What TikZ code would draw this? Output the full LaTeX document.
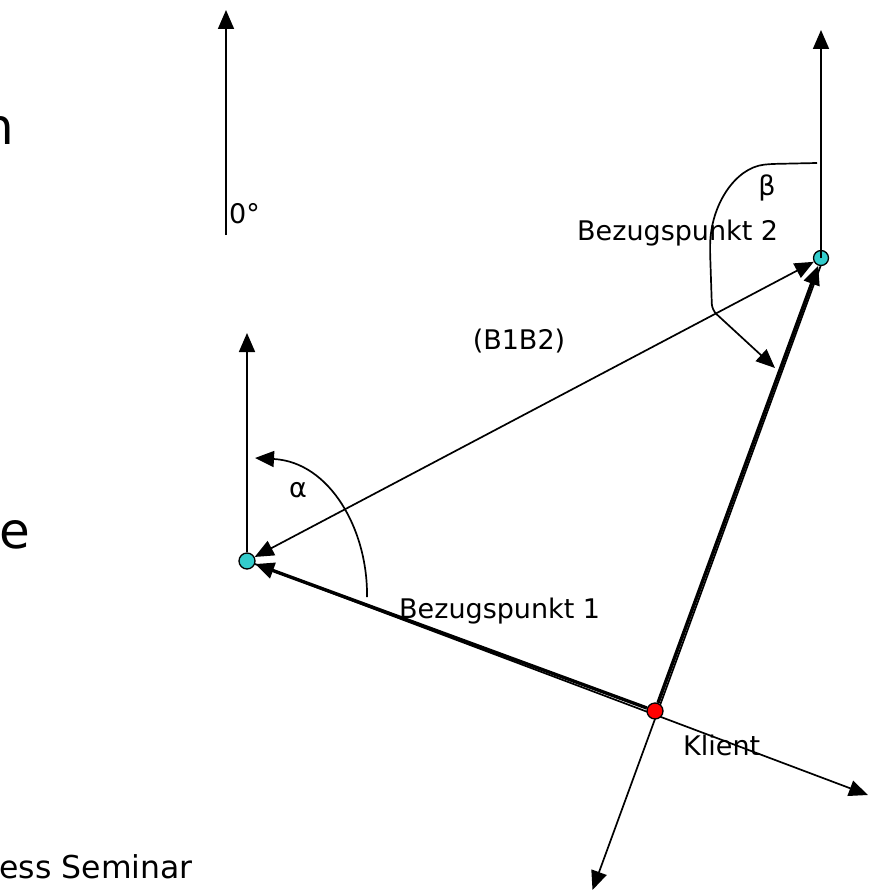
\documentclass[tikz,border=0pt]{standalone}
\usepackage{fontspec}
\setmainfont{DejaVu Sans}
\usetikzlibrary{arrows.meta}
\definecolor{bcyan}{HTML}{33CCCC}
\definecolor{kred}{HTML}{FF0000}
\begin{document}
\begin{tikzpicture}[x=1pt,y=-1pt,
  thinln/.style={line width=1.7pt},
  thickln/.style={line width=3.4pt},
  tip/.style={-{Triangle[length=19pt,width=16pt]}},
  lbl/.style={font=\fontsize{27}{32}\selectfont, inner sep=0pt},
  big/.style={font=\fontsize{50}{60}\selectfont, inner sep=0pt},
  pt/.style={circle, draw=black, line width=1.3pt, minimum size=16pt, inner sep=0pt}]
\useasboundingbox (0,0) rectangle (872,896);
% fragments of slide text
\node[big, anchor=base east] (tn) at (14,145) {n};
\node[big, anchor=base west] (te) at (-1,548) {e};
\node[font=\fontsize{31.5}{38}\selectfont, inner sep=0pt, anchor=base east] (ts) at (193,878) {ess Seminar};
% points
\coordinate (B1c) at (247,561);
\coordinate (B2c) at (821,258);
\coordinate (Kc) at (655,711);
% reference north arrow
\coordinate (n0a) at (226,235);
\coordinate (n0b) at (226,10);
\draw[thinln,tip] (n0a) -- (n0b);
\node[lbl, anchor=base west] (deg) at (229,223) {0°};
% extension lines
\coordinate (e1) at (868,795);
\coordinate (e2) at (590,890);
\coordinate (u1) at (247,333);
\coordinate (u2) at (821,30);
\draw[thinln,tip] (B1c) -- (e1);
\draw[thinln,tip] ([xshift=2.5pt]B2c) -- ([xshift=2.5pt]e2);
% nodes
\node[pt, fill=bcyan] (B1) at (B1c) {};
\node[pt, fill=bcyan, minimum size=15pt] (B2) at (B2c) {};
\node[pt, fill=kred] (K) at (Kc) {};
% vertical arrows
\draw[thinln,tip] (B1.north) -- (u1);
\draw[thinln,tip] (B2.center) -- (u2);
% triangle
\draw[thinln,{Triangle[length=19pt,width=16pt]}-{Triangle[length=19pt,width=16pt]}] (B2) -- (B1);
\draw[thickln,tip] (K) -- (B1);
\draw[thickln,tip] (K) -- (B2);
% angle alpha
\coordinate (a0) at (367,597);
\coordinate (a1) at (255,458);
\draw[thinln,tip] (a0) .. controls (368,530) and (330,462) .. (a1);
\node[lbl] (al) at (298,490) {α};
% angle beta
\coordinate (b0) at (817,163);
\coordinate (b1) at (775,368);
\draw[thinln,tip,rounded corners=6pt] (b0) -- (770,164) .. controls (735,168) and (711,205) .. (710,250) -- (712,310) -- (b1);
\node[lbl] (bl) at (767,188) {β};
% labels
\node[lbl, anchor=base west] (lb2) at (577,240) {Bezugspunkt 2};
\node[lbl, anchor=base west] (lb1) at (399,618) {Bezugspunkt 1};
\node[lbl, anchor=base west] (lk) at (683,755) {Klient};
\node[lbl] (lbb) at (519,341) {(B1B2)};
\end{tikzpicture}
\end{document}
